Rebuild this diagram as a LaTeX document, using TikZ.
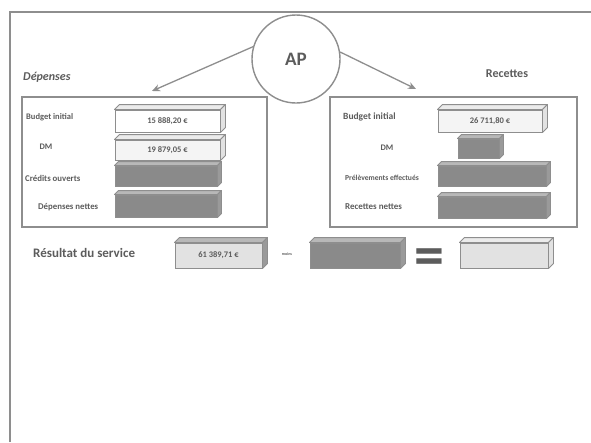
\documentclass[tikz,border=0pt]{standalone}
\usepackage{fontspec}
\setmainfont{Carlito}
\usetikzlibrary{arrows.meta}
\definecolor{frame}{HTML}{8E8E8E}
\definecolor{ink}{HTML}{5C5C5C}
\definecolor{dark}{HTML}{8A8A8A}
\definecolor{darkside}{HTML}{9A9A9A}
\definecolor{pale}{HTML}{F4F4F4}
\definecolor{paleside}{HTML}{E2E2E2}
\newcommand\fs[1]{\bfseries\fontsize{#1}{#1}\selectfont}
\tikzset{
  lbl/.style={font=\fs{8.5}, text=ink, inner sep=0pt},
  slabfront/.style={draw=frame, line width=0.9pt, inner sep=0pt},
  slabedge/.style={draw=frame, line width=0.9pt, line join=round},
  panel/.style={draw=frame, line width=1.3pt},
  link/.style={draw=frame, line width=1.3pt, -{Stealth[length=8pt,width=7pt]}}
}
% #1 name, #2 cx, #3 cy, #4 width, #5 height, #6 depth, #7 front fill, #8 side fill, #9 text
\newcommand\slab[9]{%
  \node[slabfront, fill=#7, minimum width=#4pt, minimum height=#5pt] (#1) at (#2,#3) {#9};
  \draw[slabedge, fill=#8!70!white] (#1.north west) -- ++(#6,-#6) -- ([shift={(#6,-#6)}]#1.north east) -- (#1.north east) -- cycle;
  \draw[slabedge, fill=#8] (#1.north east) -- ++(#6,-#6) -- ([shift={(#6,-#6)}]#1.south east) -- (#1.south east) -- cycle;
}
\newcommand\val[1]{\fs{8.5}\color{ink}#1}
\begin{document}
\begin{tikzpicture}[x=1pt,y=-1pt]
\useasboundingbox (0,0) rectangle (591,442);
\fill[white] (0,0) rectangle (591,442);
% outer frame
\draw[frame, line width=2.6pt] (10,442) -- (10,12) -- (591,12);
% AP circle
\node[circle, draw=frame, line width=1.4pt, minimum size=88pt, inner sep=0pt,
      font=\fs{19}, text=ink] (ap) at (296,59) {AP};
% headings
\node[lbl, anchor=west, font=\bfseries\itshape\fontsize{12}{12}\selectfont] (dep) at (23,77) {Dépenses};
\node[lbl, font=\fs{12}] (rec) at (507,74) {Recettes};
% arrows
\coordinate (depTip) at (152,91);
\coordinate (recTip) at (416,89);
\draw[link] (ap.164) -- (depTip);
\draw[link] (ap.9) -- (recTip);
% panels
\node[panel, minimum width=245pt, minimum height=130pt, inner sep=0pt] (left) at (144.5,162) {};
\node[panel, minimum width=247pt, minimum height=130pt, inner sep=0pt] (right) at (453.5,162) {};
% left rows
\node[lbl, anchor=west, font=\fs{8.5}] (l1) at (26,117) {Budget initial};
\node[lbl, font=\fs{8.5}] (l2) at (46,147) {DM};
\node[lbl, anchor=west, font=\fs{8.8}] (l3) at (25,178) {Crédits ouverts};
\node[lbl, anchor=west, font=\fs{8.8}] (l4) at (38,207) {Dépenses nettes};
\slab{lb1}{167.5}{121}{105}{22}{5}{white}{paleside}{\val{15 888,20 €}}
\slab{lb2}{167.5}{150}{105}{20}{5}{pale}{paleside}{\val{19 879,05 €}}
\slab{lb3}{166}{176}{102}{20}{4}{dark}{darkside}{}
\slab{lb4}{166}{206}{102}{22}{4}{dark}{darkside}{}
% right rows
\node[lbl, anchor=west, font=\fs{9.5}] (r1) at (343,117) {Budget initial};
\node[lbl, font=\fs{8.5}] (r2) at (387,148) {DM};
\node[lbl, anchor=west, font=\fs{7.6}] (r3) at (345,178) {Prélèvements effectués};
\node[lbl, anchor=west, font=\fs{9}] (r4) at (345,207) {Recettes nettes};
\slab{rb1}{490}{121}{104}{22}{5}{pale}{paleside}{\val{26 711,80 €}}
\slab{rb2}{478.5}{148.5}{41}{19}{4}{dark}{darkside}{}
\slab{rb3}{492}{176}{108}{20}{4}{dark}{darkside}{}
\slab{rb4}{492}{207.5}{108}{21}{4}{dark}{darkside}{}
% result row
\node[lbl, anchor=west, font=\fs{13}] (res) at (33,253) {Résultat du service};
\slab{s1}{218.5}{255.5}{87}{25}{5}{paleside}{darkside}{\val{61 389,71 €}}
\node[lbl, font=\fs{4}] (minus) at (287,254) {moins};
\slab{s2}{355}{255.5}{90}{25}{5}{dark}{darkside}{}
\node[lbl, font=\fs{60}] (eq) at (429,262) {=};
\slab{s3}{504}{255.5}{88}{25}{5}{paleside}{paleside}{}
\end{tikzpicture}
\end{document}
